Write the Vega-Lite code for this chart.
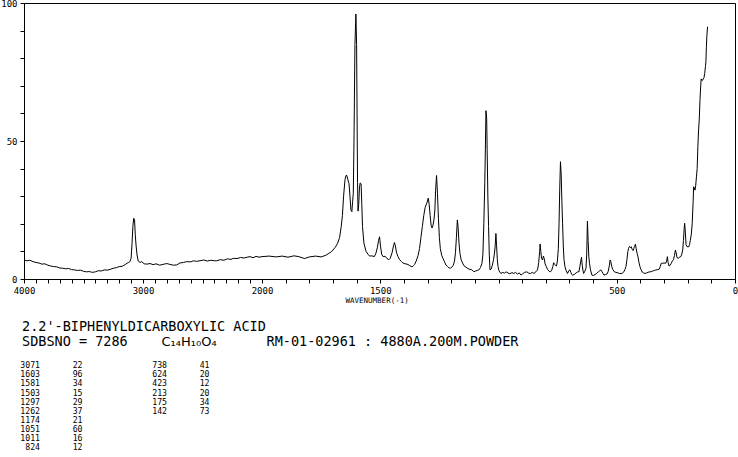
{
  "$schema": "https://vega.github.io/schema/vega-lite/v6.json",
  "autosize": "none",
  "width": 711,
  "height": 276,
  "padding": {"left": 24, "top": 3, "right": 3, "bottom": 178},
  "background": "white",
  "config": {
    "view": {"stroke": "black", "strokeWidth": 1},
    "axis": {"grid": false, "domainColor": "black", "tickColor": "black", "labelColor": "black", "titleColor": "black", "labelFont": "DejaVu Sans Mono", "titleFont": "DejaVu Sans Mono", "domainWidth": 1, "tickWidth": 1}
  },
  "datasets": {
    "spectrum": [
      {"wn":4000,"i":6.9},{"wn":3975,"i":6.6},{"wn":3950,"i":6.8},{"wn":3925,"i":6.3},{"wn":3900,"i":6.0},{"wn":3875,"i":5.8},{"wn":3850,"i":5.4},{"wn":3825,"i":5.5},{"wn":3800,"i":5.0},{"wn":3775,"i":4.7},{"wn":3750,"i":4.5},{"wn":3725,"i":4.4},{"wn":3700,"i":4.0},{"wn":3675,"i":3.9},{"wn":3650,"i":3.7},{"wn":3625,"i":3.8},{"wn":3600,"i":3.4},{"wn":3575,"i":3.3},{"wn":3550,"i":3.1},{"wn":3525,"i":3.2},{"wn":3500,"i":2.8},{"wn":3475,"i":2.6},{"wn":3450,"i":2.7},{"wn":3425,"i":2.4},{"wn":3400,"i":2.6},{"wn":3375,"i":3.0},{"wn":3350,"i":2.9},{"wn":3325,"i":3.3},{"wn":3300,"i":3.2},{"wn":3275,"i":3.5},{"wn":3250,"i":3.9},{"wn":3225,"i":4.1},{"wn":3200,"i":4.5},{"wn":3175,"i":4.6},{"wn":3150,"i":5.2},{"wn":3135,"i":5.7},{"wn":3120,"i":6.0},{"wn":3110,"i":6.3},{"wn":3100,"i":7.5},{"wn":3092,"i":13},{"wn":3085,"i":19},{"wn":3078,"i":22},{"wn":3071,"i":21.5},{"wn":3065,"i":16},{"wn":3058,"i":12},{"wn":3050,"i":8.7},{"wn":3040,"i":6.5},{"wn":3025,"i":6.0},{"wn":3011,"i":6.3},{"wn":2990,"i":5.5},{"wn":2965,"i":5.4},{"wn":2941,"i":5.6},{"wn":2915,"i":5.2},{"wn":2890,"i":5.5},{"wn":2860,"i":5.0},{"wn":2830,"i":5.3},{"wn":2801,"i":5.6},{"wn":2775,"i":5.3},{"wn":2745,"i":5.0},{"wn":2717,"i":5.1},{"wn":2690,"i":5.8},{"wn":2660,"i":6.0},{"wn":2633,"i":6.3},{"wn":2600,"i":6.2},{"wn":2575,"i":6.6},{"wn":2550,"i":6.4},{"wn":2521,"i":6.6},{"wn":2490,"i":6.9},{"wn":2460,"i":6.5},{"wn":2430,"i":6.8},{"wn":2400,"i":6.6},{"wn":2381,"i":6.6},{"wn":2350,"i":7.0},{"wn":2320,"i":6.8},{"wn":2290,"i":7.3},{"wn":2260,"i":7.1},{"wn":2241,"i":7.5},{"wn":2210,"i":7.4},{"wn":2180,"i":7.8},{"wn":2150,"i":7.6},{"wn":2125,"i":7.9},{"wn":2101,"i":8.1},{"wn":2075,"i":7.7},{"wn":2050,"i":8.2},{"wn":2025,"i":7.9},{"wn":2000,"i":8.1},
      {"wn":1970,"i":8.3},{"wn":1940,"i":8.0},{"wn":1915,"i":8.3},{"wn":1890,"i":7.9},{"wn":1865,"i":8.4},{"wn":1844,"i":8.1},{"wn":1820,"i":7.4},{"wn":1800,"i":8.0},{"wn":1773,"i":8.3},{"wn":1750,"i":8.0},{"wn":1730,"i":8.6},{"wn":1717,"i":9.3},{"wn":1705,"i":10.0},{"wn":1690,"i":11.5},{"wn":1680,"i":13},{"wn":1672,"i":15},{"wn":1665,"i":19},{"wn":1660,"i":23},{"wn":1655,"i":30},{"wn":1649,"i":36},{"wn":1645,"i":37.5},{"wn":1641,"i":37.5},{"wn":1637,"i":36},{"wn":1632,"i":34.5},{"wn":1628,"i":30},{"wn":1624,"i":25},{"wn":1620,"i":24.4},{"wn":1617,"i":28},{"wn":1614,"i":31},{"wn":1611,"i":50},{"wn":1607,"i":85},{"wn":1603,"i":96},{"wn":1600,"i":85},{"wn":1598,"i":60},{"wn":1596,"i":35},{"wn":1594,"i":24.6},{"wn":1591,"i":27},{"wn":1588,"i":33},{"wn":1585,"i":34.8},{"wn":1581,"i":34.5},{"wn":1578,"i":27},{"wn":1575,"i":19},{"wn":1569,"i":13},{"wn":1560,"i":10},{"wn":1552,"i":9},{"wn":1545,"i":8.3},{"wn":1535,"i":8.4},{"wn":1525,"i":8.1},{"wn":1518,"i":9.4},{"wn":1512,"i":11.5},{"wn":1507,"i":14},{"wn":1503,"i":15.3},{"wn":1499,"i":12},{"wn":1494,"i":9},{"wn":1488,"i":8.1},{"wn":1480,"i":8.2},{"wn":1472,"i":7.6},{"wn":1465,"i":6.9},{"wn":1458,"i":7.5},{"wn":1450,"i":9.5},{"wn":1444,"i":12},{"wn":1440,"i":13.2},{"wn":1436,"i":12},{"wn":1431,"i":9.5},{"wn":1425,"i":8.1},{"wn":1418,"i":7.0},{"wn":1410,"i":6.3},{"wn":1404,"i":5.8},{"wn":1395,"i":5.5},{"wn":1387,"i":5.4},{"wn":1378,"i":5.0},{"wn":1370,"i":4.6},{"wn":1366,"i":4.4},{"wn":1360,"i":4.8},{"wn":1355,"i":5.2},{"wn":1348,"i":6.5},{"wn":1340,"i":8.5},{"wn":1334,"i":11},{"wn":1328,"i":15},{"wn":1322,"i":19},{"wn":1316,"i":23},{"wn":1310,"i":26},{"wn":1303,"i":27.5},{"wn":1297,"i":29.3},{"wn":1293,"i":27},{"wn":1289,"i":23},{"wn":1285,"i":19.5},{"wn":1281,"i":18.5},{"wn":1277,"i":19.5},{"wn":1273,"i":21.4},{"wn":1269,"i":25},{"wn":1266,"i":32},{"wn":1262,"i":37.5},{"wn":1258,"i":31},{"wn":1254,"i":22},{"wn":1250,"i":15},{"wn":1246,"i":11},{"wn":1240,"i":8.5},{"wn":1235,"i":7.5},{"wn":1228,"i":6.2},{"wn":1222,"i":5.0},{"wn":1215,"i":4.5},{"wn":1209,"i":4.0},{"wn":1203,"i":3.9},{"wn":1197,"i":4.3},{"wn":1191,"i":5.0},{"wn":1186,"i":6.5},{"wn":1182,"i":9.5},{"wn":1178,"i":15},{"wn":1174,"i":21.4},{"wn":1171,"i":19},{"wn":1167,"i":13},{"wn":1163,"i":9.3},{"wn":1158,"i":7},{"wn":1152,"i":5.8},{"wn":1146,"i":4.8},{"wn":1138,"i":4.3},{"wn":1130,"i":3.8},{"wn":1122,"i":3.5},{"wn":1115,"i":3.4},{"wn":1108,"i":3.0},{"wn":1104,"i":2.6},{"wn":1097,"i":2.9},{"wn":1090,"i":3.1},{"wn":1083,"i":3.3},{"wn":1076,"i":4.2},{"wn":1070,"i":5.7},{"wn":1066,"i":9},{"wn":1062,"i":20},{"wn":1058,"i":35},{"wn":1055,"i":50},{"wn":1053,"i":61},{"wn":1050,"i":58},{"wn":1048,"i":47},{"wn":1045,"i":30},{"wn":1042,"i":19},{"wn":1039,"i":9},{"wn":1036,"i":3.3},{"wn":1031,"i":3.6},{"wn":1026,"i":5},{"wn":1021,"i":7},{"wn":1017,"i":9.4},{"wn":1014,"i":12},{"wn":1011,"i":16.5},{"wn":1008,"i":12},{"wn":1005,"i":7},{"wn":1002,"i":4.5},{"wn":998,"i":3},
      {"wn":990,"i":2.0},{"wn":982,"i":2.4},{"wn":975,"i":2.1},{"wn":968,"i":2.6},{"wn":960,"i":2.2},{"wn":952,"i":1.9},{"wn":943,"i":2.3},{"wn":935,"i":2.0},{"wn":928,"i":2.4},{"wn":920,"i":1.8},{"wn":912,"i":2.2},{"wn":905,"i":1.4},{"wn":898,"i":1.9},{"wn":890,"i":2.4},{"wn":880,"i":2.6},{"wn":872,"i":2.1},{"wn":865,"i":2.0},{"wn":857,"i":2.4},{"wn":850,"i":2.0},{"wn":842,"i":2.6},{"wn":835,"i":3.3},{"wn":830,"i":6},{"wn":826,"i":10},{"wn":824,"i":12.7},{"wn":821,"i":10},{"wn":818,"i":7.5},{"wn":814,"i":6.9},{"wn":810,"i":8.3},{"wn":807,"i":7.5},{"wn":803,"i":5.5},{"wn":798,"i":4.5},{"wn":793,"i":3.5},{"wn":786,"i":2.8},{"wn":780,"i":2.6},{"wn":775,"i":3.2},{"wn":770,"i":4.5},{"wn":767,"i":5.9},{"wn":763,"i":5.3},{"wn":758,"i":4.9},{"wn":755,"i":4.7},{"wn":751,"i":6.5},{"wn":747,"i":11},{"wn":744,"i":20},{"wn":741,"i":33},{"wn":738,"i":42.5},{"wn":735,"i":38},{"wn":732,"i":28},{"wn":729,"i":20},{"wn":726,"i":12},{"wn":723,"i":7},{"wn":719,"i":4.5},{"wn":714,"i":3},{"wn":708,"i":2.0},{"wn":703,"i":3.0},{"wn":698,"i":3.3},{"wn":694,"i":2.4},{"wn":690,"i":1.6},{"wn":687,"i":1.4},{"wn":680,"i":1.6},{"wn":672,"i":2.2},{"wn":665,"i":2.6},{"wn":660,"i":2.6},{"wn":656,"i":4.5},{"wn":652,"i":6.5},{"wn":649,"i":7.9},{"wn":646,"i":5},{"wn":643,"i":3.2},{"wn":640,"i":2.0},{"wn":635,"i":2.8},{"wn":630,"i":3.9},{"wn":627,"i":9},{"wn":624,"i":21},{"wn":621,"i":14},{"wn":618,"i":8},{"wn":615,"i":5.5},{"wn":611,"i":3.3},{"wn":605,"i":1.4},{"wn":598,"i":1.3},{"wn":592,"i":1.6},{"wn":585,"i":2.0},{"wn":578,"i":2.6},{"wn":572,"i":3.0},{"wn":567,"i":3.3},{"wn":562,"i":2.6},{"wn":558,"i":2.0},{"wn":554,"i":1.4},{"wn":548,"i":1.6},{"wn":541,"i":1.8},{"wn":536,"i":2.8},{"wn":531,"i":5},{"wn":528,"i":6.9},{"wn":525,"i":6.3},{"wn":521,"i":4.5},{"wn":517,"i":3.5},{"wn":510,"i":2.6},{"wn":503,"i":2.4},{"wn":495,"i":2.2},{"wn":488,"i":2.0},{"wn":478,"i":2.0},{"wn":470,"i":2.6},{"wn":465,"i":3.5},{"wn":461,"i":4.5},{"wn":457,"i":7},{"wn":453,"i":10},{"wn":450,"i":11.1},{"wn":446,"i":11.8},{"wn":442,"i":11.4},{"wn":439,"i":11.7},{"wn":435,"i":10.8},{"wn":431,"i":10.3},{"wn":428,"i":11},{"wn":425,"i":11.8},{"wn":421,"i":12.6},{"wn":418,"i":11},{"wn":414,"i":9.3},{"wn":410,"i":8},{"wn":406,"i":6},{"wn":402,"i":4.5},{"wn":398,"i":3.5},{"wn":392,"i":2.5},{"wn":386,"i":2.2},{"wn":381,"i":2.0},{"wn":374,"i":2.2},{"wn":368,"i":2.4},{"wn":362,"i":2.6},{"wn":355,"i":2.6},{"wn":348,"i":2.9},{"wn":340,"i":3.1},{"wn":334,"i":3.3},{"wn":327,"i":3.4},{"wn":321,"i":3.5},{"wn":316,"i":4.5},{"wn":312,"i":5.7},{"wn":306,"i":5.7},{"wn":300,"i":5.8},{"wn":293,"i":5.7},{"wn":289,"i":6.5},{"wn":286,"i":8.1},{"wn":283,"i":6.0},{"wn":279,"i":4.7},{"wn":275,"i":4.9},{"wn":270,"i":5.6},{"wn":265,"i":6.5},{"wn":260,"i":7.0},{"wn":256,"i":8.5},{"wn":252,"i":10.5},{"wn":249,"i":9.6},{"wn":246,"i":8},{"wn":242,"i":7.5},{"wn":238,"i":7.6},{"wn":233,"i":8.0},{"wn":229,"i":8.1},{"wn":225,"i":9},{"wn":221,"i":10.5},{"wn":218,"i":14},{"wn":215,"i":18},{"wn":213,"i":20.2},{"wn":210,"i":17},{"wn":207,"i":12.5},{"wn":203,"i":11.7},{"wn":199,"i":11.7},{"wn":195,"i":11.7},{"wn":192,"i":12.5},{"wn":189,"i":14},{"wn":185,"i":16},{"wn":181,"i":20},{"wn":177,"i":28},{"wn":175,"i":33.4},{"wn":172,"i":33},{"wn":169,"i":32.2},{"wn":166,"i":34},{"wn":163,"i":37},{"wn":160,"i":40},{"wn":157,"i":48},{"wn":154,"i":54},{"wn":151,"i":58},{"wn":148,"i":65},{"wn":145,"i":70},{"wn":143,"i":72.5},{"wn":140,"i":72},{"wn":137,"i":72},{"wn":134,"i":72.5},{"wn":131,"i":73},{"wn":128,"i":74.5},{"wn":125,"i":77},{"wn":123,"i":78.7},{"wn":121,"i":84},{"wn":119,"i":88},{"wn":116,"i":91.4}
    ],
    "peaks": [
      {"wn":3071,"int":22,"g":1,"r":1},{"wn":1603,"int":96,"g":1,"r":2},{"wn":1581,"int":34,"g":1,"r":3},{"wn":1503,"int":15,"g":1,"r":4},{"wn":1297,"int":29,"g":1,"r":5},{"wn":1262,"int":37,"g":1,"r":6},{"wn":1174,"int":21,"g":1,"r":7},{"wn":1051,"int":60,"g":1,"r":8},{"wn":1011,"int":16,"g":1,"r":9},{"wn":824,"int":12,"g":1,"r":10},
      {"wn":738,"int":41,"g":2,"r":1},{"wn":624,"int":20,"g":2,"r":2},{"wn":423,"int":12,"g":2,"r":3},{"wn":213,"int":20,"g":2,"r":4},{"wn":175,"int":34,"g":2,"r":5},{"wn":142,"int":73,"g":2,"r":6}
    ]
  },
  "layer": [
    {
      "data": {"name": "spectrum"},
      "mark": {"type": "line", "color": "black", "strokeWidth": 1},
      "encoding": {
        "x": {
          "field": "wn", "type": "quantitative",
          "scale": {"domain": [4000, 2000, 0], "range": [0, 238, 711], "nice": false, "zero": false},
          "axis": {
            "values": [4000,3900,3800,3700,3600,3500,3400,3300,3200,3100,3000,2900,2800,2700,2600,2500,2400,2300,2200,2100,2000,1900,1800,1700,1600,1500,1400,1300,1200,1100,1000,900,800,700,600,500,400,300,200,100,0],
            "labelExpr": "indexof([4000,3000,2000,1500,500,0], datum.value) >= 0 ? '' + datum.value : ''",
            "tickSize": 4,
            "labelFontSize": 9, "labelPadding": 3, "labelOverlap": false, "labelFlush": false, "labelBound": false,
            "title": "WAVENUMBER(-1)", "titleFontSize": 7.5, "titleFontWeight": "normal",
            "titleX": 321, "titleY": 23, "titleAlign": "left", "titleBaseline": "alphabetic", "titleAnchor": "start"
          }
        },
        "y": {
          "field": "i", "type": "quantitative",
          "scale": {"domain": [0, 100], "nice": false, "zero": true},
          "axis": {
            "values": [0,10,20,30,40,50,60,70,80,90,100],
            "labelExpr": "indexof([0,50,100], datum.value) >= 0 ? '' + datum.value : ''",
            "tickSize": 4,
            "labelFontSize": 9, "labelPadding": 3, "labelOverlap": false, "labelFlush": false, "labelBound": false,
            "title": null
          }
        }
      }
    },
    {
      "data": {"name": "peaks"},
      "mark": {"type": "text", "align": "right", "baseline": "alphabetic", "font": "DejaVu Sans Mono", "fontSize": 8.2, "color": "black"},
      "encoding": {
        "x": {"field": "g", "type": "quantitative", "scale": {"domain": [1, 2], "range": [16, 143]}, "axis": null},
        "y": {"field": "r", "type": "quantitative", "scale": {"domain": [1, 10], "range": [365.3, 447]}, "axis": null},
        "text": {"field": "wn", "type": "nominal"}
      }
    },
    {
      "data": {"name": "peaks"},
      "mark": {"type": "text", "align": "right", "baseline": "alphabetic", "font": "DejaVu Sans Mono", "fontSize": 8.2, "color": "black", "dx": 42.5},
      "encoding": {
        "x": {"field": "g", "type": "quantitative", "scale": {"domain": [1, 2], "range": [16, 143]}, "axis": null},
        "y": {"field": "r", "type": "quantitative", "scale": {"domain": [1, 10], "range": [365.3, 447]}, "axis": null},
        "text": {"field": "int", "type": "nominal"}
      }
    },
    {
      "data": {"values": [{"t": "2.2'-BIPHENYLDICARBOXYLIC ACID"}]},
      "mark": {"type": "text", "align": "left", "baseline": "alphabetic", "font": "DejaVu Sans Mono", "fontSize": 13.5, "color": "black"},
      "encoding": {"x": {"value": -2}, "y": {"value": 328}, "text": {"field": "t", "type": "nominal"}}
    },
    {
      "data": {"values": [{"t": "SDBSNO = 7286"}]},
      "mark": {"type": "text", "align": "left", "baseline": "alphabetic", "font": "DejaVu Sans Mono", "fontSize": 13.5, "color": "black"},
      "encoding": {"x": {"value": -2}, "y": {"value": 343}, "text": {"field": "t", "type": "nominal"}}
    },
    {
      "data": {"values": [{"t": "C₁₄H₁₀O₄"}]},
      "mark": {"type": "text", "align": "left", "baseline": "alphabetic", "font": "DejaVu Sans", "fontSize": 13, "color": "black"},
      "encoding": {"x": {"value": 137.5}, "y": {"value": 343}, "text": {"field": "t", "type": "nominal"}}
    },
    {
      "data": {"values": [{"t": "RM-01-02961 : 4880A.200M.POWDER"}]},
      "mark": {"type": "text", "align": "left", "baseline": "alphabetic", "font": "DejaVu Sans Mono", "fontSize": 13.5, "color": "black"},
      "encoding": {"x": {"value": 242.5}, "y": {"value": 343}, "text": {"field": "t", "type": "nominal"}}
    }
  ],
  "resolve": {"scale": {"x": "independent", "y": "independent"}}
}
